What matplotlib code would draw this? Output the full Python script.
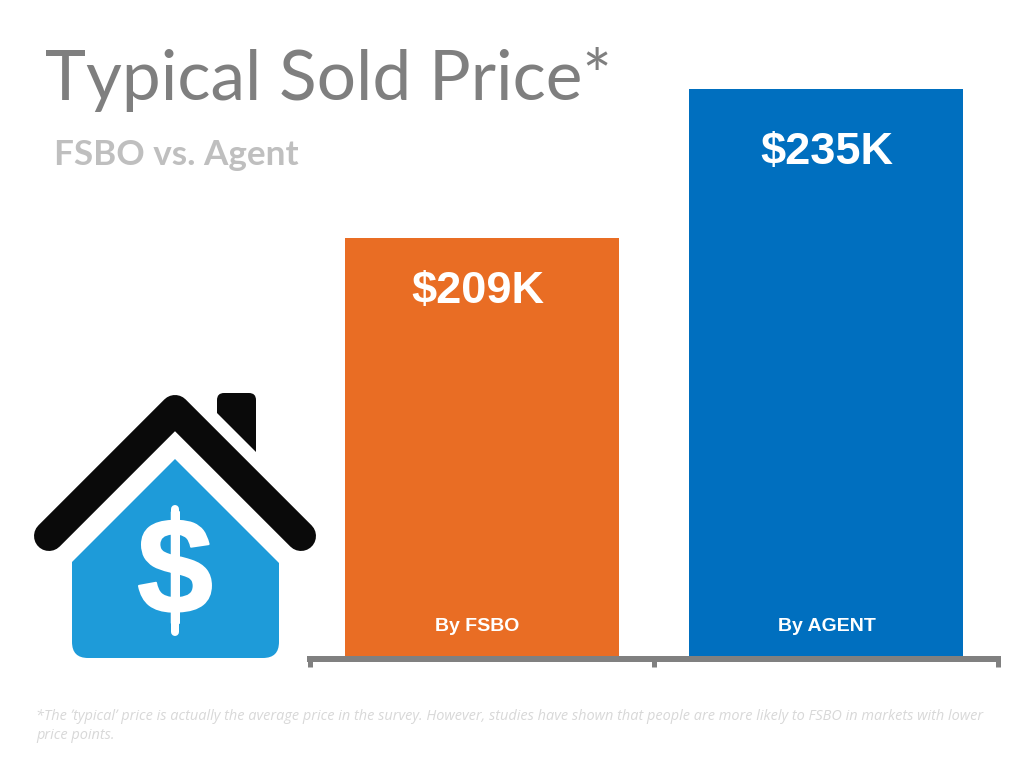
import matplotlib
matplotlib.use('Agg')
import matplotlib.pyplot as plt
import matplotlib.patheffects as pe
from matplotlib.patches import PathPatch
from matplotlib.path import Path

W, H = 1024, 768

categories = ['By FSBO', 'By AGENT']
prices = [209, 235]
bar_colors = ['#E96D24', '#006FBF']

title = 'Typical Sold Price*'
subtitle = 'FSBO vs. Agent'
footnote = ('*The \u02bctypical\u02bc price is actually the average price in the survey. However, '
            'studies have shown that people are more likely to FSBO in markets with lower\nprice points.')

GRAY = '#808080'


def px_w(n):
    # pixels to points at dpi 100
    return n * 0.72


fig = plt.figure(figsize=(W / 100, H / 100), dpi=100, facecolor='white')

# bars
ax = fig.add_axes([310 / W, 1 - 659 / H, 688 / W, 570 / H])
ax.bar(range(2), prices, width=0.797, bottom=0, color=bar_colors, zorder=1)
ax.set_xlim(-0.5, 1.5)
ax.set_ylim(135.5, 235)
ax.set_xticks([-0.5, 0.5, 1.5])
ax.set_xticklabels([])
ax.set_yticks([])
for side in ['top', 'left', 'right']:
    ax.spines[side].set_visible(False)
ax.spines['bottom'].set_color(GRAY)
ax.spines['bottom'].set_linewidth(px_w(6))
ax.spines['bottom'].set_capstyle('projecting')
ax.tick_params(axis='x', length=px_w(8), width=px_w(5), color=GRAY)

# overlay in pixel coords for the text and the house icon
ov = fig.add_axes([0, 0, 1, 1], facecolor='none')
ov.set_xlim(0, W)
ov.set_ylim(H, 0)
ov.axis('off')

ov.text(45, 100, title, family='Lato', fontsize=50, color='#7F7F7F', va='baseline', ha='left')
ov.text(54, 165, subtitle, family='Lato', fontsize=25.3, weight='bold', color='#BFBFBF', va='baseline', ha='left')

value_pos = [(478, 303), (827, 164)]
label_pos = [(477, 631), (827, 631)]
for i in range(2):
    ov.text(*value_pos[i], f'${prices[i]}K', family='Liberation Sans', fontsize=32.5, weight='bold',
            color='white', ha='center', va='baseline')
    ov.text(*label_pos[i], categories[i], family='Liberation Sans', fontsize=14, weight='bold',
            color='white', ha='center', va='baseline')

ov.text(36, 726, footnote, family='Open Sans', style='italic', fontsize=10.45, color='#D8D8D8',
        va='center', ha='left', linespacing=1.35)

# house icon
roof = Path([(49, 536), (175, 410), (301, 536)], [Path.MOVETO, Path.LINETO, Path.LINETO])
ov.add_patch(PathPatch(roof, fill=False, edgecolor='#0A0A0A', lw=px_w(30), capstyle='round', joinstyle='round'))

chimney_pts = [(217, 400), (217, 393), (224, 393), (249, 393), (256, 393), (256, 400), (256, 452), (217, 413), (217, 400)]
chimney_codes = [Path.MOVETO, Path.CURVE3, Path.CURVE3, Path.LINETO, Path.CURVE3, Path.CURVE3,
                 Path.LINETO, Path.LINETO, Path.CLOSEPOLY]
ov.add_patch(PathPatch(Path(chimney_pts, chimney_codes), facecolor='#0A0A0A', edgecolor='none'))

r = 16
body_pts = [(175, 459), (279, 563), (279, 658 - r), (279, 658), (279 - r, 658), (72 + r, 658),
            (72, 658), (72, 658 - r), (72, 562), (175, 459)]
body_codes = [Path.MOVETO, Path.LINETO, Path.LINETO, Path.CURVE3, Path.CURVE3, Path.LINETO,
              Path.CURVE3, Path.CURVE3, Path.LINETO, Path.CLOSEPOLY]
ov.add_patch(PathPatch(Path(body_pts, body_codes), facecolor='#1E9BD9', edgecolor='none'))

ov.plot([175, 175], [509, 632], color='white', lw=px_w(8), solid_capstyle='round')
dollar = ov.text(175, 613, '$', family='Liberation Sans', weight='bold', fontsize=98, color='white',
                 ha='center', va='baseline')
dollar.set_path_effects([pe.withStroke(linewidth=px_w(2), foreground='white', joinstyle='round')])

fig.savefig('out.png', dpi=100, facecolor='white')
